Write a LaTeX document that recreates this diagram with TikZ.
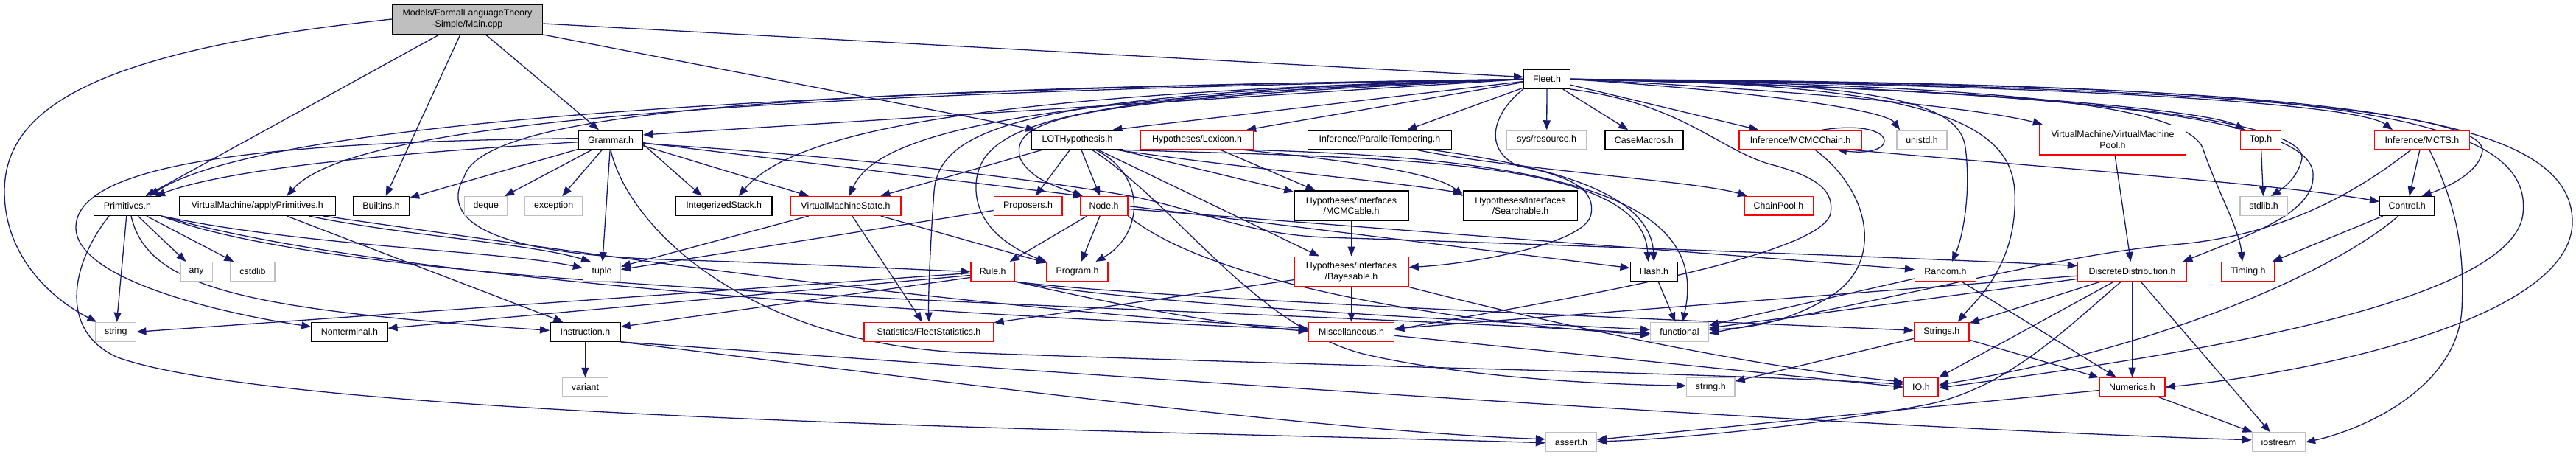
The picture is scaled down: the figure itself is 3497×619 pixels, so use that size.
\documentclass[tikz,border=0pt]{standalone}
\usepackage{fontspec}
\setmainfont{Liberation Sans}
\usetikzlibrary{arrows.meta}
\definecolor{edgeblue}{HTML}{191970}
\definecolor{boxgray}{HTML}{BFBFBF}
\pgfdeclarelayer{bg}
\pgfsetlayers{bg,main}
\tikzset{
  nbase/.style={rectangle, inner sep=0pt, minimum height=25.6pt, fill=white, align=center,
     font=\fontsize{12.4}{14.6}\selectfont, line width=1.5pt},
  boxk/.style={nbase, draw=black},
  boxr/.style={nbase, draw=red},
  boxg/.style={nbase, draw=boxgray, line width=1.3pt},
  boxm/.style={nbase, draw=black, fill=boxgray},
  twol/.style={minimum height=40.5pt},
  edg/.style={draw=edgeblue, line width=1.3pt, -{Triangle[length=13pt,width=10pt]}},
}
\begin{document}
\begin{tikzpicture}[x=1pt,y=-1pt]
\useasboundingbox (0,0) rectangle (3497,619);

% ---------- nodes ----------
\node[boxm,twol,minimum width=204pt] (main) at (634.5,26) {Models/FormalLanguageTheory\\-Simple/Main.cpp};
\node[boxk,minimum width=62.6pt] (fleet) at (2100,107.5) {Fleet.h};

\node[boxk,minimum width=86.7pt] (grammar) at (829,189.7) {Grammar.h};
\node[boxk,minimum width=124pt] (lot) at (1462.5,189.7) {LOTHypothesis.h};
\node[boxr,minimum width=152.7pt] (lexicon) at (1625,189.7) {Hypotheses/Lexicon.h};
\node[boxk,minimum width=195pt] (partemp) at (1872.9,189.7) {Inference/ParallelTempering.h};
\node[boxg,minimum width=108pt] (sysres) at (2099.7,189.7) {sys/resource.h};
\node[boxk,minimum width=106pt] (casemac) at (2231.9,189.7) {CaseMacros.h};
\node[boxr,minimum width=166.5pt] (mcmcchain) at (2444,189.7) {Inference/MCMCChain.h};
\node[boxg,minimum width=68pt] (unistd) at (2609,189.7) {unistd.h};
\node[boxr,twol,minimum width=199pt] (vmpool) at (2868,189.7) {VirtualMachine/VirtualMachine\\Pool.h};
\node[boxr,minimum width=55pt] (top) at (3069,189.7) {Top.h};
\node[boxr,minimum width=129pt] (mcts) at (3288,189.7) {Inference/MCTS.h};

\node[boxk,minimum width=91pt] (prim) at (173,279.5) {Primitives.h};
\node[boxk,minimum width=212pt] (applyprim) at (349.3,279.5) {VirtualMachine/applyPrimitives.h};
\node[boxk,minimum width=76pt] (builtins) at (517.5,279.5) {Builtins.h};
\node[boxg,minimum width=58pt] (deque) at (659.8,279.5) {deque};
\node[boxg,minimum width=78.6pt] (exception) at (751.7,279.5) {exception};
\node[boxk,minimum width=131pt] (intstack) at (982.7,279.5) {IntegerizedStack.h};
\node[boxr,minimum width=150.4pt] (vms) at (1148,279.5) {VirtualMachineState.h};
\node[boxr,minimum width=92.4pt] (proposers) at (1395.6,279.5) {Proposers.h};
\node[boxr,minimum width=64.3pt] (node) at (1498.6,279.5) {Node.h};
\node[boxk,twol,minimum width=155pt] (mcmcable) at (1834.5,279.2) {Hypotheses/Interfaces\\/MCMCable.h};
\node[boxk,twol,minimum width=155pt] (searchable) at (2064,279.2) {Hypotheses/Interfaces\\/Searchable.h};
\node[boxr,minimum width=93.5pt] (chainpool) at (2414.5,279.3) {ChainPool.h};
\node[boxg,minimum width=64pt] (stdlib) at (3073,279.5) {stdlib.h};
\node[boxk,minimum width=74pt] (control) at (3267.7,279.5) {Control.h};

\node[boxg,minimum width=43pt] (any) at (266.7,368.5) {any};
\node[boxg,minimum width=60pt] (cstdlib) at (343,368.5) {cstdlib};
\node[boxg,minimum width=51pt] (tuple) at (817,368.5) {tuple};
\node[boxr,minimum width=59.7pt] (rule) at (1347.7,368.5) {Rule.h};
\node[boxr,minimum width=82.6pt] (program) at (1462.5,368.5) {Program.h};
\node[boxr,twol,minimum width=155pt] (bayesable) at (1834.5,368.5) {Hypotheses/Interfaces\\/Bayesable.h};
\node[boxk,minimum width=64.3pt] (hash) at (2245.4,368.5) {Hash.h};
\node[boxr,minimum width=82.6pt] (random) at (2641,368.5) {Random.h};
\node[boxr,minimum width=148pt] (discrete) at (2894.5,368.5) {DiscreteDistribution.h};
\node[boxr,minimum width=71.7pt] (timing) at (3052,368.5) {Timing.h};

\node[boxg,minimum width=55pt] (string) at (157.3,450.3) {string};
\node[boxk,minimum width=102.7pt] (nonterm) at (474.4,450.3) {Nonterminal.h};
\node[boxk,minimum width=95.3pt] (instr) at (794.4,450.3) {Instruction.h};
\node[boxr,minimum width=175.7pt] (stats) at (1261,450.3) {Statistics/FleetStatistics.h};
\node[boxr,minimum width=116pt] (misc) at (1834.5,450.3) {Miscellaneous.h};
\node[boxg,minimum width=78.6pt] (functional) at (2280,450.3) {functional};
\node[boxr,minimum width=74.6pt] (strings) at (2635.7,450.3) {Strings.h};

\node[boxg,minimum width=62pt] (variant) at (794.4,525.2) {variant};
\node[boxg,minimum width=65.4pt] (stringh) at (2322.3,525.2) {string.h};
\node[boxr,minimum width=46.5pt] (io) at (2607.9,525.2) {IO.h};
\node[boxr,minimum width=89pt] (numerics) at (2894.5,525.2) {Numerics.h};

\node[boxg,minimum width=69pt] (assert) at (2133,599.8) {assert.h};
\node[boxg,minimum width=72pt] (iostream) at (3093.4,599.8) {iostream};

% ---------- edges ----------
\begin{pgfonlayer}{bg}
% Main.cpp
\draw[edg] (main.west) .. controls (120,70) and (6,150) .. (6,260) .. controls (6,340) and (60,400) .. (string);
\draw[edg] (main) -- (prim);
\draw[edg] (main) -- (builtins);
\draw[edg] (main) -- (grammar);
\draw[edg] (main.south east) -- ([xshift=6pt]lot.north west);
\draw[edg] ([yshift=-6pt]main.east) -- ([yshift=3pt]fleet.west);

% Fleet.h
\draw[edg] (fleet.west) -- ([yshift=6.7pt]grammar.east);
\draw[edg] ([yshift=-3pt]fleet.west) -- ([xshift=-15pt]lot.north east);
\draw[edg] ([yshift=-4pt]fleet.west) -- ([xshift=-10pt]lexicon.north east);
\draw[edg] (fleet) -- (partemp);
\draw[edg] (fleet) -- (sysres);
\draw[edg] (fleet) -- (casemac);
\draw[edg] (fleet) -- (mcmcchain);
\draw[edg] (fleet.east) .. controls (2400,125) and (2560,150) .. ([xshift=-30pt]unistd.north);
\draw[edg] (fleet.east) .. controls (2500,125) and (2700,150) .. ([xshift=5pt]vmpool.north west);
\draw[edg] (fleet.east) .. controls (2700,120) and (3000,150) .. ([xshift=-22pt]top.north);
\draw[edg] (fleet.east) .. controls (2800,115) and (3200,140) .. ([xshift=-40pt]mcts.north);
\draw[edg] (fleet.east) .. controls (2900,125) and (3130,170) .. (3125,215) .. controls (3120,240) and (3100,255) .. ([xshift=10pt]stdlib.north);
\draw[edg] (fleet.east) .. controls (3000,115) and (3375,150) .. (3370,205) .. controls (3365,235) and (3320,255) .. ([xshift=20pt]control.north);
\draw[edg] (fleet.east) .. controls (3100,115) and (3490,140) .. (3492,300) .. controls (3494,430) and (3150,505) .. (numerics.east);
\draw[edg] (fleet.east) .. controls (3150,112) and (3440,150) .. (3425,290) .. controls (3410,420) and (2900,490) .. ([yshift=-1pt]io.east);
\draw[edg] (fleet.east) .. controls (2600,112) and (2730,160) .. (2735,260) .. controls (2740,360) and (2680,410) .. ([xshift=22pt]strings.north);
\draw[edg] (fleet.east) .. controls (2560,110) and (2660,140) .. (2668,200) .. controls (2676,260) and (2665,320) .. ([xshift=9pt]random.north);
\draw[edg] (fleet.east) .. controls (2950,125) and (3145,175) .. (3140,240) .. controls (3140,290) and (3050,320) .. ([xshift=-6pt]discrete.north east);
\draw[edg] (fleet.east) .. controls (2700,115) and (2960,140) .. (2990,200) .. controls (3010,260) and (3040,310) .. ([xshift=-8pt]timing.north);
\draw[edg] (fleet.west) .. controls (1000,122) and (350,170) .. ([xshift=30pt]prim.north);
\draw[edg] (fleet.west) .. controls (1000,128) and (480,165) .. ([xshift=40pt]applyprim.north);
\draw[edg] (fleet.west) .. controls (1350,125) and (1080,175) .. ([xshift=20pt]intstack.north);
\draw[edg] (fleet.west) .. controls (1400,130) and (1190,180) .. ([xshift=5pt]vms.north);
\draw[edg] (fleet.west) .. controls (1450,135) and (1370,160) .. (1385,215) .. controls (1400,245) and (1440,255) .. ([xshift=4pt]node.north west);
\draw[edg] (fleet.west) .. controls (1450,128) and (1330,165) .. (1325,250) .. controls (1322,310) and (1380,340) .. (program.north west);
\draw[edg] (fleet.west) .. controls (1400,125) and (1275,170) .. (1268,260) .. controls (1263,330) and (1260,400) .. (stats.north);
\draw[edg] (fleet.west) .. controls (1200,120) and (660,140) .. (630,240) .. controls (590,310) and (700,345) .. (900,352) .. controls (1100,358) and (1250,366) .. (rule.west);
\draw[edg] (fleet.south west) .. controls (2030,150) and (2010,200) .. (2060,225) .. controls (2140,240) and (2165,260) .. (2160,290) .. controls (2155,330) and (2000,358) .. ([yshift=6pt]bayesable.east);
\draw[edg] (fleet.south east) .. controls (2280,140) and (2330,200) .. (2400,222) .. controls (2470,240) and (2490,260) .. (2485,290) .. controls (2470,350) and (2100,410) .. ([yshift=3pt]misc.east);

% Grammar.h
\draw[edg] ([yshift=-3pt]grammar.west) .. controls (580,205) and (320,225) .. ([xshift=38pt]prim.north);
\draw[edg] ([yshift=2pt]grammar.west) .. controls (400,192) and (100,215) .. (103,310) .. controls (106,380) and (300,425) .. ([yshift=7pt]nonterm.west);
\draw[edg] (grammar) -- (builtins);
\draw[edg] (grammar) -- (deque);
\draw[edg] (grammar) -- (exception);
\draw[edg] (grammar) -- (tuple);
\draw[edg] ([yshift=-6pt]grammar.east) -- ([xshift=-30pt]intstack.north);
\draw[edg] ([yshift=-8pt]grammar.east) -- ([xshift=-50pt]vms.north);
\draw[edg] ([yshift=-4pt]grammar.east) -- ([xshift=4pt]node.north west);
\draw[edg] ([yshift=-5pt]grammar.east) .. controls (1200,215) and (1450,250) .. (1545,268) .. controls (1640,290) and (1700,318) .. (1800,322) .. controls (2200,335) and (2600,350) .. ([yshift=8pt]discrete.west);
\draw[edg] (grammar.south) .. controls (850,300) and (1000,460) .. (1300,478) .. controls (1900,500) and (2300,505) .. ([yshift=4pt]io.west);

% Primitives.h
\draw[edg] (prim) -- (string);
\draw[edg] (prim) -- (any);
\draw[edg] (prim) -- (cstdlib);
\draw[edg] (prim.south east) .. controls (420,335) and (680,340) .. ([yshift=5pt]tuple.west);
\draw[edg] ([xshift=5pt]prim.south) .. controls (200,390) and (330,420) .. ([yshift=2pt]instr.west);
\draw[edg] ([xshift=-25pt]prim.south) .. controls (95,360) and (80,450) .. (160,485) .. controls (400,570) and (1600,585) .. ([yshift=-1pt]assert.west);
\draw[edg] (prim.south east) .. controls (450,360) and (1000,415) .. ([yshift=3pt]misc.west);
\draw[edg] (prim.south east) .. controls (500,400) and (1500,410) .. ([yshift=-2pt]functional.west);

% applyPrimitives.h
\draw[edg] ([xshift=40pt]applyprim.south) -- ([xshift=-30pt]instr.north);
\draw[edg] ([xshift=70pt]applyprim.south) .. controls (550,320) and (720,330) .. ([xshift=-15pt]tuple.north);
\draw[edg] ([xshift=90pt]applyprim.south) .. controls (700,330) and (1300,420) .. ([yshift=5pt]misc.west);

% Rule.h
\draw[edg] ([yshift=-2pt]rule.west) -- (string.east);
\draw[edg] ([yshift=-5pt]rule.west) -- ([yshift=5pt]nonterm.east);
\draw[edg] ([yshift=-8pt]rule.west) -- ([yshift=7pt]instr.east);
\draw[edg] (rule.south east) .. controls (1500,410) and (1650,440) .. ([yshift=1pt]misc.west);
\draw[edg] (rule.south east) .. controls (1550,415) and (2100,440) .. ([yshift=3pt]functional.west);
\draw[edg] (rule.south east) .. controls (1550,405) and (2300,435) .. ([yshift=2pt]strings.west);

% Node.h
\draw[edg] (node) -- (rule);
\draw[edg] (node) -- (program);
\draw[edg] (node.east) -- ([yshift=5pt]hash.west);
\draw[edg] ([yshift=-4pt]node.east) -- ([yshift=3pt]random.west);
\draw[edg] (node.south east) .. controls (1650,390) and (2000,440) .. ([yshift=-4pt]functional.west);

% LOTHypothesis.h
\draw[edg] (lot) -- (vms);
\draw[edg] (lot) -- (proposers);
\draw[edg] (lot) -- (node);
\draw[edg] ([xshift=25pt]lot.south) .. controls (1560,240) and (1550,320) .. ([xshift=25pt]program.north);
\draw[edg] (lot) -- (mcmcable);
\draw[edg] ([xshift=-10pt]lot.south east) .. controls (1700,230) and (1880,245) .. ([yshift=17pt]searchable.west);
\draw[edg] (lot) -- (bayesable);
\draw[edg] ([xshift=-5pt]lot.south east) .. controls (1900,215) and (2230,215) .. ([xshift=-8pt]hash.north);
\draw[edg] ([xshift=20pt]lot.south) .. controls (1600,280) and (1700,440) .. (1850,480) .. controls (2000,515) and (2200,522) .. ([yshift=2pt]stringh.west);

% Lexicon.h
\draw[edg] (lexicon) -- (mcmcable);
\draw[edg] ([xshift=-15pt]lexicon.south east) .. controls (1800,215) and (1950,232) .. ([yshift=13pt]searchable.west);
\draw[edg] ([xshift=-10pt]lexicon.south east) .. controls (2150,215) and (2320,280) .. ([xshift=4pt]functional.north);

% ParallelTempering.h
\draw[edg] ([xshift=50pt]partemp.south) .. controls (2050,230) and (2300,245) .. ([xshift=5pt]chainpool.north west);
\draw[edg] ([xshift=70pt]partemp.south) .. controls (2100,225) and (2240,260) .. (hash.north);

% VirtualMachineState.h, Proposers.h
\draw[edg] (vms) -- (tuple);
\draw[edg] (vms) -- (stats);
\draw[edg] (vms) -- (program);
\draw[edg] ([yshift=-6pt]proposers.west) -- ([yshift=3pt]tuple.east);

% Interfaces
\draw[edg] (mcmcable) -- (bayesable);
\draw[edg] (bayesable) -- (misc);
\draw[edg] (bayesable) -- (stats);
\draw[edg] (bayesable.south east) .. controls (2150,450) and (2400,500) .. ([yshift=7pt]io.west);
\draw[edg] ([yshift=-5pt]misc.east) -- (io.west);

% Instruction.h
\draw[edg] (instr) -- (variant);
\draw[edg] (instr.south east) .. controls (1500,510) and (2500,580) .. ([yshift=3pt]iostream.west);
\draw[edg] (instr.south east) .. controls (1300,520) and (1800,585) .. ([yshift=4pt]assert.west);

% MCMCChain.h
\draw[edg] ([xshift=30pt]mcmcchain.north) .. controls (2580,160) and (2580,215) .. ([xshift=50pt]mcmcchain.south);
\draw[edg] ([xshift=-15pt]mcmcchain.south east) .. controls (2750,225) and (3100,250) .. ([yshift=6pt]control.west);
\draw[edg] ([xshift=20pt]mcmcchain.south) .. controls (2540,260) and (2560,360) .. (2480,405) .. controls (2420,440) and (2370,445) .. ([yshift=3pt]functional.east);

% Hash, Random, Strings
\draw[edg] (hash) -- (functional);
\draw[edg] (random) -- (functional);
\draw[edg] (random) -- (numerics);
\draw[edg] (strings) -- (stringh);
\draw[edg] (strings) -- (numerics);

% DiscreteDistribution.h
\draw[edg] (discrete) -- (misc);
\draw[edg] (discrete) -- (functional);
\draw[edg] (discrete) -- (strings);
\draw[edg] (discrete) -- (io);
\draw[edg] (discrete) -- (numerics);
\draw[edg] (discrete) -- (iostream);
\draw[edg] ([xshift=-15pt]discrete.south) .. controls (2800,450) and (2720,530) .. (2610,550) .. controls (2450,580) and (2250,597) .. ([yshift=1pt]assert.east);

% Numerics, VMPool, Top, MCTS, Control
\draw[edg] (numerics) -- (assert);
\draw[edg] (numerics) -- (iostream);
\draw[edg] (vmpool) -- (discrete);
\draw[edg] (top) -- (stdlib);
\draw[edg] (mcts) -- (control);
\draw[edg] ([xshift=10pt]mcts.south) .. controls (3340,290) and (3345,350) .. (3342,420) .. controls (3335,530) and (3200,585) .. (iostream.east);
\draw[edg] ([xshift=-15pt]mcts.south) .. controls (3200,260) and (3100,320) .. (2950,332) .. controls (2800,345) and (2600,400) .. ([yshift=-2pt]functional.east);
\draw[edg] (control) -- (timing);
\draw[edg] ([xshift=-12pt]control.south) .. controls (3180,360) and (2950,470) .. ([yshift=3pt]io.east);
\end{pgfonlayer}
\end{tikzpicture}
\end{document}
